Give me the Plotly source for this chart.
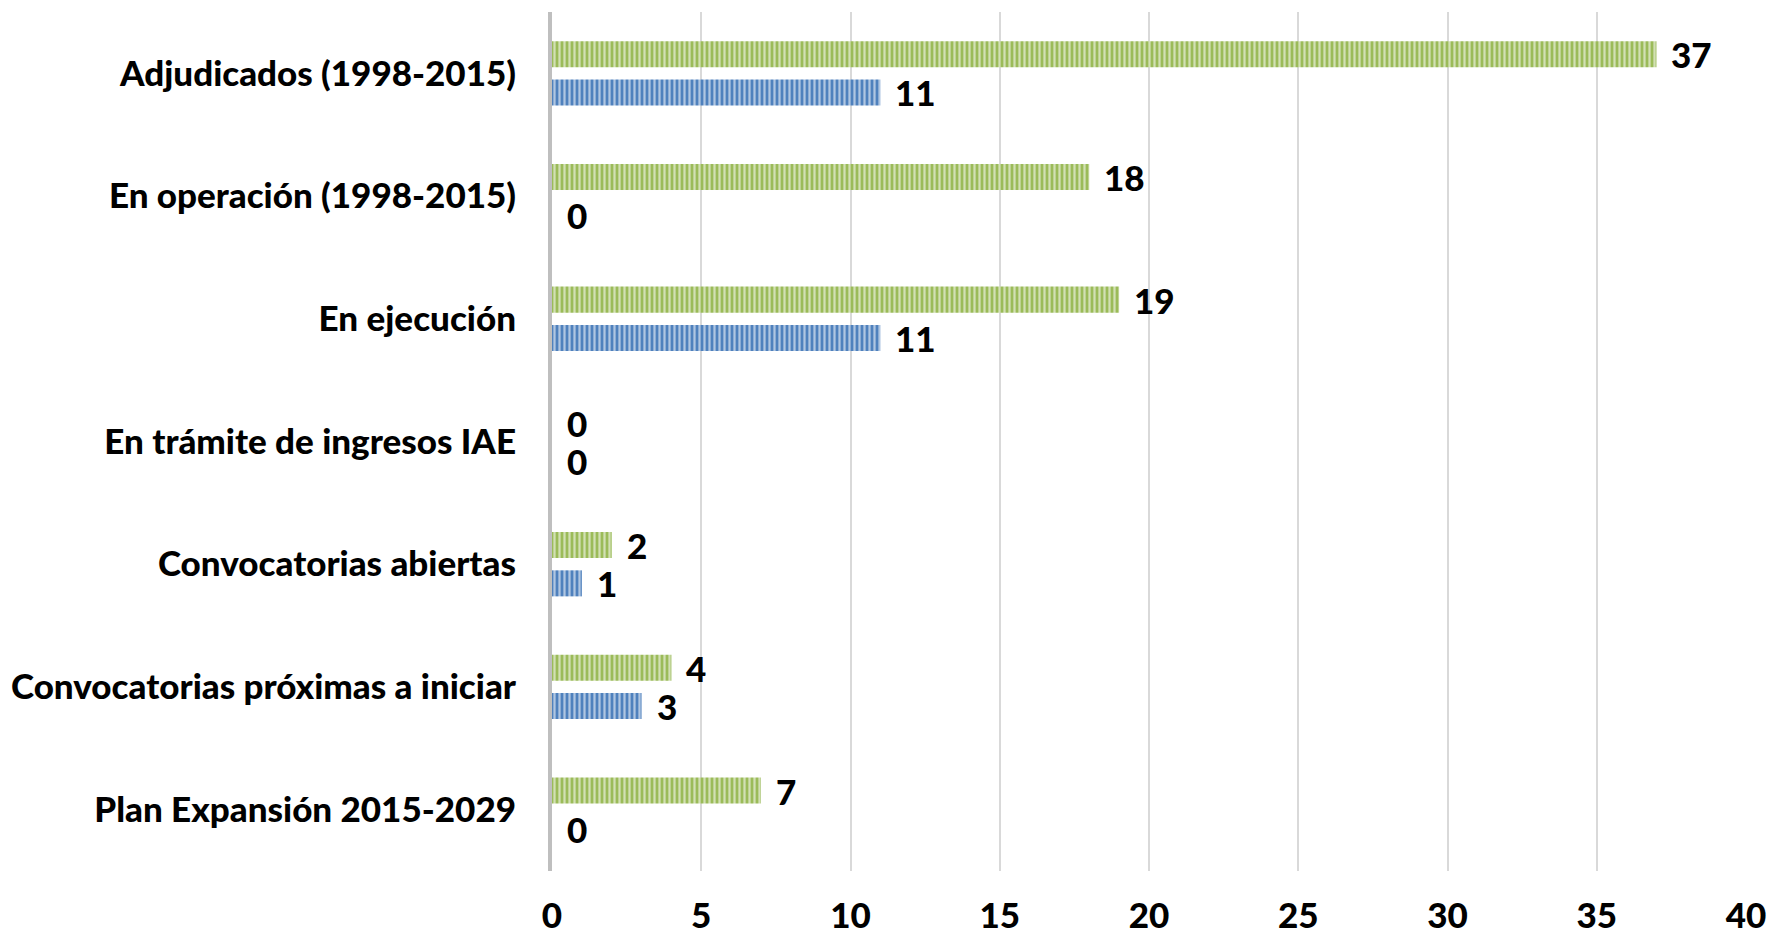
import plotly.graph_objects as go

categories = [
    "Adjudicados (1998-2015)",
    "En operación (1998-2015)",
    "En ejecución",
    "En trámite de ingresos IAE",
    "Convocatorias abiertas",
    "Convocatorias próximas a iniciar",
    "Plan Expansión 2015-2029",
]
green_values = [37, 18, 19, 0, 2, 4, 7]
blue_values = [11, 0, 11, 0, 1, 3, 0]
x_ticks = [0, 5, 10, 15, 20, 25, 30, 35, 40]

FONT = "Lato"
SIZE = 35
WEIGHT = 900
GREEN = "#9BBB59"
BLUE = "#4F81BD"


def striped(color):
    return dict(
        color=color,
        line=dict(width=0),
        pattern=dict(shape="|", size=5, solidity=0.45,
                     fgcolor="white", fgopacity=0.55, fillmode="overlay"),
    )


fig = go.Figure()
fig.add_trace(go.Bar(y=categories, x=green_values, orientation="h",
                     marker=striped(GREEN), name="A", hoverinfo="x+y"))
fig.add_trace(go.Bar(y=categories, x=blue_values, orientation="h",
                     marker=striped(BLUE), name="B", hoverinfo="x+y"))

label_font = dict(family=FONT, size=SIZE, color="black", weight=WEIGHT)

# value labels to the right of each bar
annotations = []
for cat, g, b in zip(categories, green_values, blue_values):
    for val, shift in ((g, 19), (b, -19)):
        annotations.append(dict(
            x=val, y=cat, xref="x", yref="y", text=str(val),
            showarrow=False, xanchor="left", yanchor="middle",
            xshift=13, yshift=shift, font=label_font,
        ))

fig.update_layout(
    width=1771, height=934,
    margin=dict(l=552, r=25, t=12, b=63),
    paper_bgcolor="white", plot_bgcolor="white",
    barmode="group", bargap=0.376, bargroupgap=0.32,
    showlegend=False,
    font=label_font,
    annotations=annotations,
)
fig.update_xaxes(
    range=[0, 40], tickvals=x_ticks,
    tickfont=label_font,
    showgrid=True, gridcolor="#D9D9D9", gridwidth=2,
    zeroline=False, showline=False, ticks="",
    ticklabelstandoff=21, automargin=False,
)
fig.update_yaxes(
    autorange="reversed", tickvals=categories,
    tickfont=label_font,
    showgrid=False, zeroline=False,
    showline=True, linecolor="#BFBFBF", linewidth=4,
    ticks="", ticklabelstandoff=25, automargin=False,
)

fig.write_html("out.html")
